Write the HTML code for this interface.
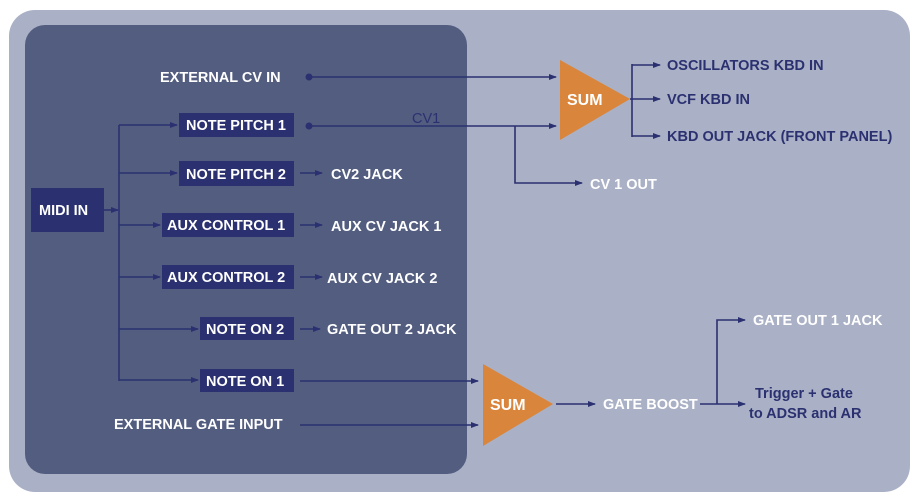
<!DOCTYPE html>
<html><head><style>
html,body{margin:0;padding:0;background:#fff;}
svg{display:block;}
text{font-family:"Liberation Sans",sans-serif;font-weight:bold;font-size:14.5px;}
.w{fill:#ffffff;}
.d{fill:#2b3170;}
</style></head><body>
<svg width="917" height="500" viewBox="0 0 917 500" xmlns="http://www.w3.org/2000/svg">
<defs>
<marker id="a" markerWidth="8" markerHeight="6" refX="7" refY="3" orient="auto" markerUnits="userSpaceOnUse">
<path d="M0,0 L8,3 L0,6 Z" fill="#2b3170"/></marker>
</defs>
<rect x="9" y="10" width="901" height="482" rx="26" fill="#aab1c6"/>
<rect x="25" y="25" width="442" height="449" rx="20" fill="#535d80"/>
<g stroke="#2b3170" stroke-width="1.6" fill="none">
<line x1="104" y1="210" x2="118" y2="210" marker-end="url(#a)"/>
<line x1="119" y1="125" x2="119" y2="381"/>
<line x1="119" y1="125" x2="177" y2="125" marker-end="url(#a)"/>
<line x1="119" y1="173" x2="177" y2="173" marker-end="url(#a)"/>
<line x1="119" y1="225" x2="160" y2="225" marker-end="url(#a)"/>
<line x1="119" y1="277" x2="160" y2="277" marker-end="url(#a)"/>
<line x1="119" y1="329" x2="198" y2="329" marker-end="url(#a)"/>
<line x1="119" y1="380" x2="198" y2="380" marker-end="url(#a)"/>
<line x1="300" y1="173" x2="322" y2="173" marker-end="url(#a)"/>
<line x1="300" y1="225" x2="322" y2="225" marker-end="url(#a)"/>
<line x1="300" y1="277" x2="322" y2="277" marker-end="url(#a)"/>
<line x1="300" y1="329" x2="320" y2="329" marker-end="url(#a)"/>
<line x1="309" y1="77" x2="556" y2="77" marker-end="url(#a)"/>
<line x1="309" y1="126" x2="556" y2="126" marker-end="url(#a)"/>
<polyline points="515,126 515,183 582,183" marker-end="url(#a)"/>
<line x1="630" y1="99" x2="632" y2="99"/>
<polyline points="632,64 632,137"/>
<line x1="632" y1="65" x2="660" y2="65" marker-end="url(#a)"/>
<line x1="632" y1="99" x2="660" y2="99" marker-end="url(#a)"/>
<line x1="632" y1="136" x2="660" y2="136" marker-end="url(#a)"/>
<line x1="300" y1="381" x2="478" y2="381" marker-end="url(#a)"/>
<line x1="300" y1="425" x2="478" y2="425" marker-end="url(#a)"/>
<line x1="556" y1="404" x2="595" y2="404" marker-end="url(#a)"/>
<line x1="700" y1="404" x2="745" y2="404" marker-end="url(#a)"/>
<polyline points="717,404 717,320 745,320" marker-end="url(#a)"/>
</g>
<circle cx="309" cy="77" r="3.5" fill="#2b3170"/>
<circle cx="309" cy="126" r="3.5" fill="#2b3170"/>
<g fill="#2b3170">
<rect x="31" y="188" width="73" height="44"/>
<rect x="179" y="113" width="115" height="24"/>
<rect x="179" y="161" width="115" height="25"/>
<rect x="162" y="213" width="132" height="24"/>
<rect x="162" y="265" width="132" height="24"/>
<rect x="200" y="317" width="94" height="23"/>
<rect x="200" y="369" width="94" height="23"/>
</g>
<polygon points="560,60 630,99 560,140" fill="#d9853b"/>
<polygon points="483,364 553,404 483,446" fill="#d9853b"/>
<text class="w" x="39" y="215">MIDI IN</text>
<text class="w" x="160" y="82">EXTERNAL CV IN</text>
<text class="w" x="186" y="130">NOTE PITCH 1</text>
<text class="w" x="186" y="179">NOTE PITCH 2</text>
<text class="w" x="167" y="230">AUX CONTROL 1</text>
<text class="w" x="167" y="282">AUX CONTROL 2</text>
<text class="w" x="206" y="334">NOTE ON 2</text>
<text class="w" x="206" y="386">NOTE ON 1</text>
<text class="w" x="331" y="179">CV2 JACK</text>
<text class="w" x="331" y="231">AUX CV JACK 1</text>
<text class="w" x="327" y="283">AUX CV JACK 2</text>
<text class="w" x="327" y="334">GATE OUT 2 JACK</text>
<text class="w" x="114" y="429">EXTERNAL GATE INPUT</text>
<text x="412" y="123" style="font-weight:normal;fill:#2b3170">CV1</text>
<text class="w" x="567" y="105" style="font-size:16px">SUM</text>
<text class="w" x="490" y="410" style="font-size:16px">SUM</text>
<text class="w" x="590" y="189">CV 1 OUT</text>
<text class="d" x="667" y="70">OSCILLATORS KBD IN</text>
<text class="d" x="667" y="104">VCF KBD IN</text>
<text class="d" x="667" y="141">KBD OUT JACK (FRONT PANEL)</text>
<text class="w" x="603" y="409">GATE BOOST</text>
<text class="w" x="753" y="325">GATE OUT 1 JACK</text>
<text class="d" x="755" y="398">Trigger + Gate</text>
<text class="d" x="749" y="418">to ADSR and AR</text>
</svg>
</body></html>
